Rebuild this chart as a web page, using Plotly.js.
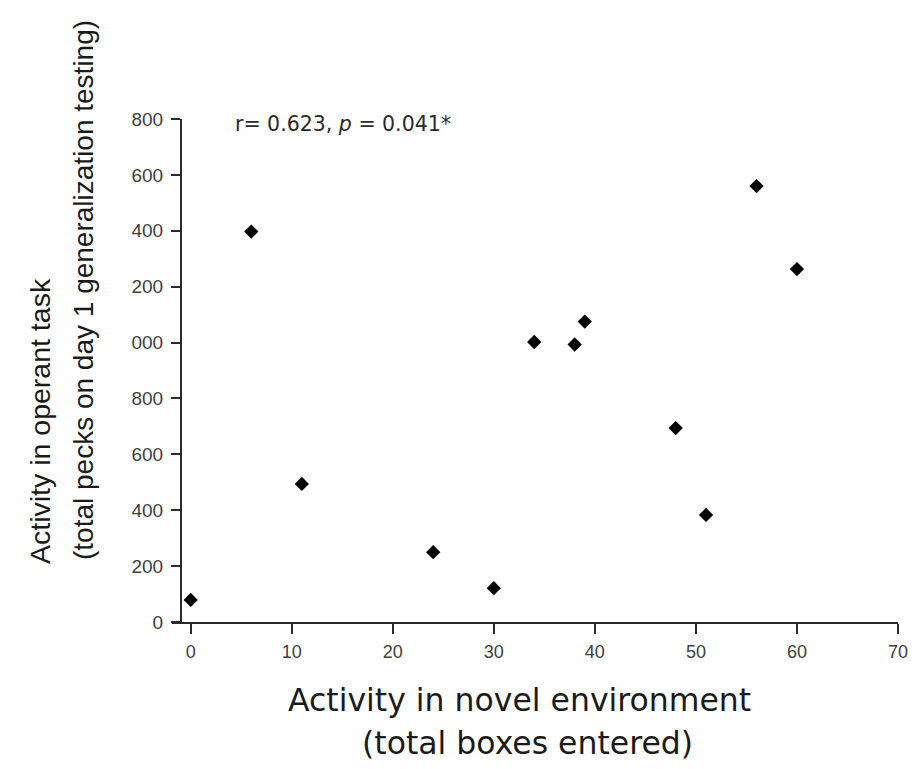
<!DOCTYPE html>
<html>
<head>
<meta charset="utf-8">
<script src="https://cdn.plot.ly/plotly-3.0.1.min.js"></script>
<style>html,body{margin:0;padding:0;background:#fff;}#chart{width:914px;height:769px;}</style>
</head>
<body>
<div id="chart"></div>
<script>
// Data
var boxesEntered = [0, 6, 11, 24, 30, 34, 38, 39, 48, 51, 56, 60];
var totalPecks   = [79, 1397, 494, 250, 121, 1002, 993, 1075, 694, 383, 1560, 1263];
var yTickVals  = [0, 200, 400, 600, 800, 1000, 1200, 1400, 1600, 1800];
var yTickText  = ["0", "200", "400", "600", "800", "000", "200", "400", "600", "800"];
var xTickVals  = [0, 10, 20, 30, 40, 50, 60, 70];
var statText = "r= 0.623, <i>p</i> = 0.041*";
var xTitleLines = ["Activity in novel environment", "(total boxes entered)"];
var yTitleLines = ["Activity in operant task", "(total pecks on day 1 generalization testing)"];

var sans = "Liberation Sans, Arial, sans-serif";
var wide = "DejaVu Sans, sans-serif";

// plot area in pixels: left 172, right 898, top 119, bottom 622
function px(x) { return (x - 172) / 726; }
function py(y) { return (622 - y) / 503; }

var trace = {
  x: boxesEntered, y: totalPecks, type: "scatter", mode: "markers",
  marker: {symbol: "diamond", size: 11, color: "#000"},
  hoverinfo: "skip", showlegend: false
};

var layout = {
  width: 914, height: 769,
  margin: {l: 172, r: 16, t: 119, b: 147, pad: 0},
  paper_bgcolor: "#fff", plot_bgcolor: "#fff",
  showlegend: false,
  xaxis: {
    range: [-1.85, 70], showgrid: false, zeroline: false,
    showline: true, linecolor: "#2a2a2a", linewidth: 2,
    ticks: "outside", ticklen: 10, tickwidth: 2, tickcolor: "#2a2a2a",
    tickvals: xTickVals, ticktext: xTickVals.map(String),
    tickfont: {family: sans, size: 18, color: "#404040"},
    ticklabelstandoff: 2,
    fixedrange: true
  },
  yaxis: {
    range: [0, 1800], showgrid: false, zeroline: false,
    anchor: "free", position: 0.0124,
    showline: true, linecolor: "#2a2a2a", linewidth: 2,
    ticks: "outside", ticklen: 9, tickwidth: 2, tickcolor: "#2a2a2a",
    tickvals: yTickVals, ticktext: yTickText,
    tickfont: {family: sans, size: 19, color: "#404040"},
    ticklabelstandoff: 4,
    fixedrange: true
  },
  annotations: [
    {text: statText, xref: "paper", yref: "paper", x: px(233), y: py(124),
     xanchor: "left", yanchor: "middle", showarrow: false,
     font: {family: wide, size: 20.5, color: "#2a2a2a"}},
    {text: xTitleLines[0], xref: "paper", yref: "paper",
     x: px(519), y: py(700), xanchor: "center", yanchor: "middle",
     showarrow: false, font: {family: wide, size: 31.5, color: "#1a1a1a"}},
    {text: xTitleLines[1], xref: "paper", yref: "paper",
     x: px(527), y: py(743), xanchor: "center", yanchor: "middle",
     showarrow: false, font: {family: wide, size: 31.5, color: "#1a1a1a"}},
    {text: yTitleLines[0], xref: "paper", yref: "paper",
     x: px(40), y: py(566), xanchor: "center", yanchor: "bottom",
     textangle: -90, showarrow: false, font: {family: sans, size: 28.5, color: "#1a1a1a"}},
    {text: yTitleLines[1], xref: "paper", yref: "paper",
     x: px(83), y: py(562), xanchor: "center", yanchor: "bottom",
     textangle: -90, showarrow: false, font: {family: sans, size: 28, color: "#1a1a1a"}}
  ]
};

Plotly.newPlot("chart", [trace], layout, {displayModeBar: false, staticPlot: true});
</script>
</body>
</html>
